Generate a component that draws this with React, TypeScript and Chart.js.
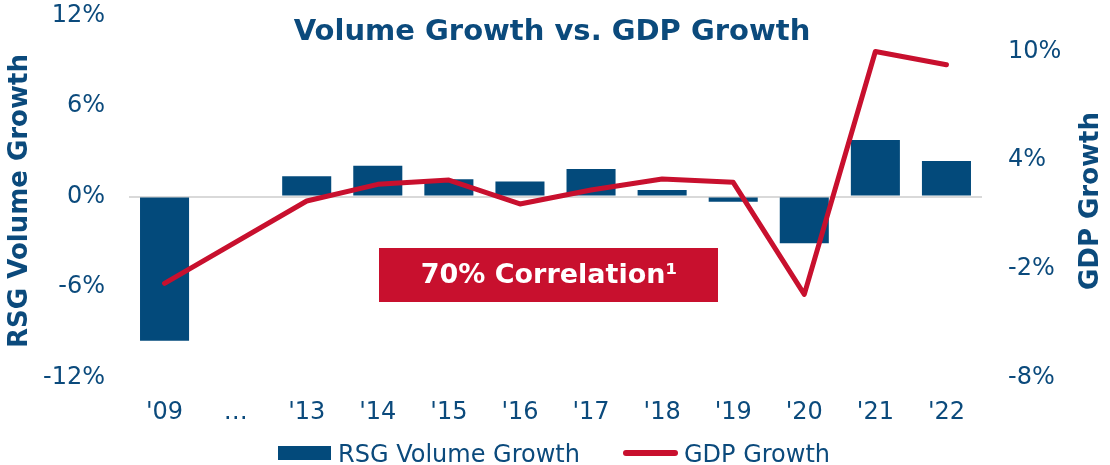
import React, { useEffect, useRef } from 'react';
import { Chart, registerables } from 'chart.js';

Chart.register(...registerables);

const categories = ["'09", '…', "'13", "'14", "'15", "'16", "'17", "'18", "'19", "'20", "'21", "'22"];
const volumeGrowth = [-9.55, null, 1.34, 2.04, 1.14, 1.0, 1.82, 0.43, -0.34, -3.1, 3.74, 2.35];
const gdpGrowth = [-2.79, null, 1.75, 2.67, 2.91, 1.59, 2.36, 2.97, 2.78, -3.4, 10.0, 9.27];
const leftTicks = [-12, -6, 0, 6, 12];
const rightTicks = [-8, -2, 4, 10];

const chartTitle = 'Volume Growth vs. GDP Growth';
const leftTitle = 'RSG Volume Growth';
const rightTitle = 'GDP Growth';
const volumeLabel = 'RSG Volume Growth';
const gdpLabel = 'GDP Growth';
const annotationText = '70% Correlation\u00B9';

const BLUE = '#034A7B';
const RED = '#C8102E';
const TEXT = '#0B4A7C';
const FONT = '"DejaVu Sans", Verdana, sans-serif';

const overlayPlugin = {
  id: 'overlay',
  afterDraw(chart: any) {
    const { ctx } = chart;
    ctx.save();
    ctx.fillStyle = TEXT;
    ctx.textAlign = 'center';
    ctx.textBaseline = 'alphabetic';
    ctx.font = `bold 29px ${FONT}`;
    ctx.fillText(chartTitle, 552, 40);

    ctx.font = `bold 26px ${FONT}`;
    ctx.save();
    ctx.translate(27, 201);
    ctx.rotate(-Math.PI / 2);
    ctx.fillText(leftTitle, 0, 0);
    ctx.restore();
    ctx.save();
    ctx.translate(1098, 201);
    ctx.rotate(-Math.PI / 2);
    ctx.fillText(rightTitle, 0, 0);
    ctx.restore();

    // annotation box
    ctx.fillStyle = RED;
    ctx.fillRect(379, 248, 339, 54);
    ctx.fillStyle = '#FFFFFF';
    ctx.font = `bold 27px ${FONT}`;
    ctx.textBaseline = 'middle';
    ctx.fillText(annotationText, 549, 276);

    // legend
    ctx.fillStyle = BLUE;
    ctx.fillRect(278, 446, 53, 14);
    ctx.fillStyle = TEXT;
    ctx.font = `24px ${FONT}`;
    ctx.textAlign = 'left';
    ctx.textBaseline = 'alphabetic';
    ctx.fillText(volumeLabel, 338, 462);
    ctx.strokeStyle = RED;
    ctx.lineWidth = 6;
    ctx.lineCap = 'round';
    ctx.beginPath();
    ctx.moveTo(626, 453);
    ctx.lineTo(675, 453);
    ctx.stroke();
    ctx.fillText(gdpLabel, 684, 462);
    ctx.restore();
  },
};

export default function App() {
  const canvasRef = useRef<HTMLCanvasElement | null>(null);

  useEffect(() => {
    if (!canvasRef.current) return;
    const chart = new Chart(canvasRef.current, {
      type: 'bar',
      data: {
        labels: categories,
        datasets: [
          {
            type: 'line',
            label: gdpLabel,
            data: gdpGrowth,
            yAxisID: 'y1',
            borderColor: RED,
            backgroundColor: RED,
            borderWidth: 5,
            pointRadius: 0,
            spanGaps: true,
            borderCapStyle: 'round',
            borderJoinStyle: 'round',
            tension: 0,
            order: 0,
          } as any,
          {
            type: 'bar',
            label: volumeLabel,
            data: volumeGrowth,
            yAxisID: 'y',
            backgroundColor: BLUE,
            borderWidth: 0,
            categoryPercentage: 1,
            barPercentage: 0.69,
            order: 1,
          } as any,
        ],
      },
      options: {
        animation: false,
        responsive: true,
        maintainAspectRatio: false,
        layout: { padding: { left: 0, right: 0, top: 15.3, bottom: 0 } },
        plugins: {
          legend: { display: false },
          title: { display: false },
          tooltip: { enabled: false },
        },
        scales: {
          x: {
            grid: { display: false, drawTicks: false },
            border: { display: false },
            ticks: { color: TEXT, font: { family: FONT, size: 24 }, padding: 21, maxRotation: 0, autoSkip: false },
            afterFit: (s: any) => {
              s.height = 87.3;
              s.paddingLeft = 0;
              s.paddingRight = 0;
            },
          },
          y: {
            position: 'left',
            min: -12,
            max: 12,
            afterBuildTicks: (s: any) => {
              s.ticks = leftTicks.map((v) => ({ value: v }));
            },
            grid: {
              drawTicks: false,
              lineWidth: 2,
              color: (c: any) => (c.tick && c.tick.value === 0 ? '#D9D9D9' : 'rgba(0,0,0,0)'),
            },
            border: { display: false },
            ticks: {
              color: TEXT,
              font: { family: FONT, size: 24 },
              padding: 24,
              callback: (v: any) => `${v}%`,
            },
            afterFit: (s: any) => {
              s.width = 129;
              s.paddingTop = 0;
              s.paddingBottom = 0;
            },
          },
          y1: {
            position: 'right',
            min: -8,
            max: 12,
            afterBuildTicks: (s: any) => {
              s.ticks = rightTicks.map((v) => ({ value: v }));
            },
            grid: { display: false, drawTicks: false },
            border: { display: false },
            ticks: {
              color: TEXT,
              font: { family: FONT, size: 24 },
              padding: 26,
              callback: (v: any) => `${v}%`,
            },
            afterFit: (s: any) => {
              s.width = 128;
              s.paddingTop = 0;
              s.paddingBottom = 0;
            },
          },
        },
      },
      plugins: [overlayPlugin],
    });
    return () => chart.destroy();
  }, []);

  return (
    <div style={{ position: 'fixed', left: 0, top: 0, width: 1110, height: 465, background: '#fff' }}>
      <canvas ref={canvasRef} />
    </div>
  );
}
